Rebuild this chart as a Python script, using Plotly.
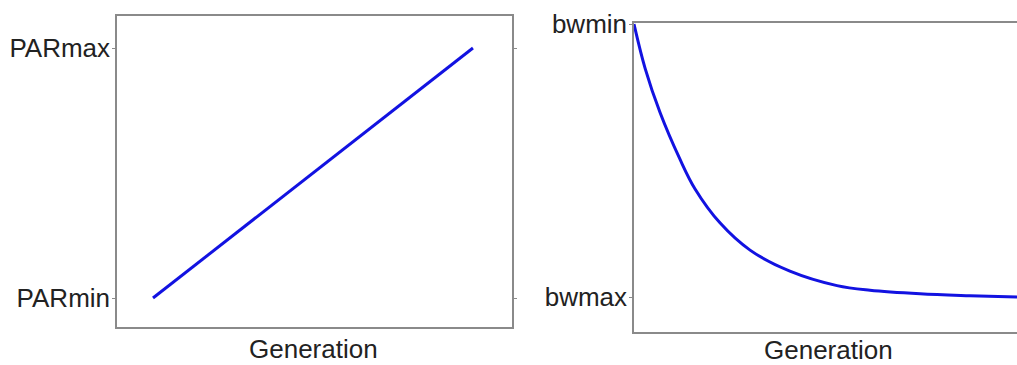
import plotly.graph_objects as go
from plotly.subplots import make_subplots

# Pitch adjusting rate: linear rise over the generations
par_generation = [0.0, 1.0]
par_value = [0.0, 1.0]
par_ticks = [0.0, 1.0]
par_ticklabels = ["PARmin", "PARmax"]

# Bandwidth: fast decay from the bwmin level that flattens out at the bwmax level
bw_generation = [0.000, 0.029, 0.068, 0.120, 0.159, 0.225, 0.303, 0.407,
                 0.530, 0.616, 0.747, 0.877, 1.000]
bw_value = [1.000, 0.838, 0.676, 0.505, 0.397, 0.271, 0.172, 0.095,
            0.042, 0.025, 0.012, 0.005, 0.000]
bw_ticks = [0.0, 1.0]
bw_ticklabels = ["bwmax", "bwmin"]

x_title = "Generation"

W, H = 1017, 365
FONT = "Liberation Sans, Arial, sans-serif"
FONT_SIZE = 26
LINE_BLUE = "rgb(18,18,225)"
FRAME = "#8a8a8a"
TEXT = "#222222"

fig = make_subplots(rows=1, cols=2)

fig.add_trace(go.Scatter(x=par_generation, y=par_value, mode="lines",
                         line=dict(color=LINE_BLUE, width=3),
                         showlegend=False, hoverinfo="skip"), row=1, col=1)
fig.add_trace(go.Scatter(x=bw_generation, y=bw_value, mode="lines",
                         line=dict(color=LINE_BLUE, width=3, shape="spline",
                                   smoothing=1.0),
                         showlegend=False, hoverinfo="skip"), row=1, col=2)

# plot areas in pixel terms
L_left, L_right, L_top, L_bot = 117, 512, 16, 327
R_left, R_top, R_bot = 634, 23, 332

common_x = dict(showline=True, linecolor=FRAME, linewidth=1.5, mirror=True,
                showticklabels=False, ticks="", showgrid=False, zeroline=False,
                automargin=False)
common_y = dict(showline=True, linecolor=FRAME, linewidth=1.5,
                tickmode="array", ticks="outside", ticklen=3, tickcolor=FRAME,
                ticklabelstandoff=-3, showgrid=False, zeroline=False,
                automargin=False)

fig.update_layout(
    width=W, height=H,
    margin=dict(l=0, r=0, t=0, b=0, autoexpand=False),
    paper_bgcolor="white", plot_bgcolor="white",
    font=dict(family=FONT, size=FONT_SIZE, color=TEXT),
    xaxis=dict(domain=[L_left / W, L_right / W], range=[-0.1125, 1.122], **common_x),
    yaxis=dict(domain=[(H - L_bot) / H, (H - L_top) / H], range=[-0.116, 1.128],
               mirror="ticks", tickvals=par_ticks, ticktext=par_ticklabels,
               **common_y),
    xaxis2=dict(domain=[R_left / W, 1.0], range=[0.0, 1.0], **common_x),
    yaxis2=dict(domain=[(H - R_bot) / H, (H - R_top) / H], range=[-0.128, 1.004],
                mirror=False, tickvals=bw_ticks, ticktext=bw_ticklabels,
                **common_y),
    annotations=[
        dict(text=x_title, xref="paper", yref="paper", x=313 / W, y=(H - 349) / H,
             xanchor="center", yanchor="middle", showarrow=False,
             font=dict(family=FONT, size=FONT_SIZE, color=TEXT)),
        dict(text=x_title, xref="paper", yref="paper", x=828 / W, y=(H - 350) / H,
             xanchor="center", yanchor="middle", showarrow=False,
             font=dict(family=FONT, size=FONT_SIZE, color=TEXT)),
    ],
)

fig.write_html("out.html")
